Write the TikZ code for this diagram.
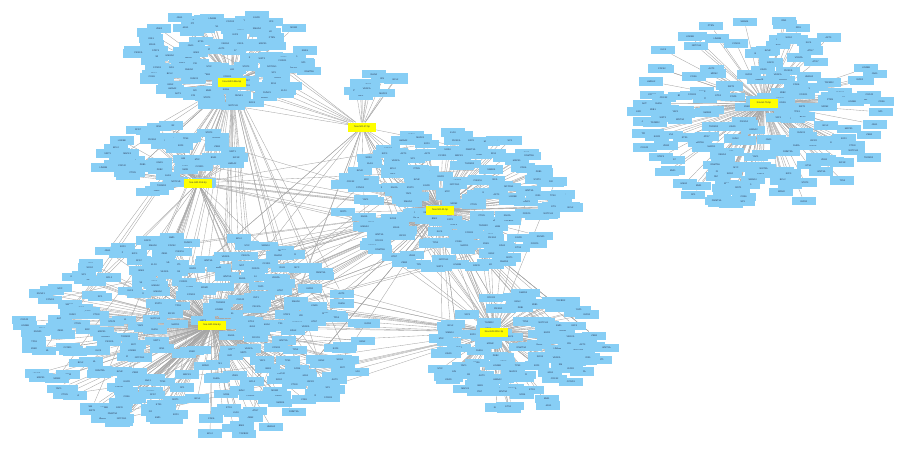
\documentclass[tikz,border=0pt]{standalone}
\usepackage{fontspec}
\setmainfont{Liberation Sans}
\pgfdeclarelayer{background}
\pgfdeclarelayer{foreground}
\pgfsetlayers{background,main,foreground}
\definecolor{nodeblue}{RGB}{135,206,245}
\definecolor{hubyellow}{RGB}{255,255,0}
\definecolor{edgegrey}{RGB}{165,165,165}
\definecolor{txt}{RGB}{40,50,80}
\tikzset{
  gn/.style={rectangle,fill=nodeblue,minimum width=24pt,minimum height=8.5pt,inner sep=0.4pt,
    font=\fontsize{2.3}{2.6}\selectfont,text=txt},
  hub/.style={rectangle,fill=hubyellow,minimum width=28pt,minimum height=9pt,inner sep=0.4pt,
    font=\fontsize{2.4}{2.8}\selectfont,text=txt},
  edge/.style={draw=edgegrey,line width=0.35pt},
  xedge/.style={draw=edgegrey,line width=0.35pt}
}
\def\genelist{{"TP53","EGFR","KRAS","PTEN","MYC","BCL2","CDK6","E2F3","SOX4","ZEB1","ZEB2","CCND1","VEGFA","STAT3","SMAD4","NOTCH1","IGF1R","MAPK1","PIK3CA","AKT3","FOXO1","HMGA2","KLF4","SIRT1","TGFBR2","RUNX1","ETS1","MDM2","BMI1","YAP1","CDC42","RHOA","DNMT3A","EZH2","SP1","JAG1","WNT3A","LIN28B","IRS1","ATG7"}}
\begin{document}
\begin{tikzpicture}[x=1pt,y=-1pt]
\useasboundingbox (0,0) rectangle (902,450);
\pgfmathsetseed{2024}
\begin{pgfonlayer}{foreground}
\node[hub] (h1) at (232,82) {hsa-miR-146a-5p};
\node[hub] (h2) at (362,127) {hsa-miR-17-5p};
\node[hub] (h3) at (198,183) {hsa-miR-155-5p};
\node[hub] (h4) at (440,210) {hsa-miR-21-5p};
\node[hub] (h5) at (212,325) {hsa-miR-34a-5p};
\node[hub] (h6) at (494,332) {hsa-miR-200c-3p};
\node[hub] (h7) at (764,103) {hsa-let-7b-5p};
\end{pgfonlayer}
\foreach \c/\cx/\cy/\rx/\ry/\n in {
  1/226/58/92/48/130,
  2/378/88/30/15/10,
  3/168/160/70/36/55,
  4/456/200/118/70/190,
  5/196/336/175/102/300,
  6/522/352/86/60/130,
  7/757/112/130/96/200}{
  \foreach \i in {1,...,\n}{
    \pgfmathsetmacro\rr{sqrt(rnd)}
    \pgfmathsetmacro\aa{360*rnd}
    \pgfmathsetmacro\px{\cx+\rx*\rr*cos(\aa)}
    \pgfmathsetmacro\py{\cy+\ry*\rr*sin(\aa)}
    \pgfmathtruncatemacro\k{mod(\i*7+\c*11,40)}
    \pgfmathsetmacro\lab{\genelist[\k]}
    \node[gn] (n\c-\i) at (\px,\py) {\lab};
  }
}
\begin{pgfonlayer}{background}
\foreach \c/\n in {1/130,2/10,3/55,4/190,5/300,6/130,7/200}{
  \foreach \i in {1,...,\n}{
    \draw[edge] (h\c) -- (n\c-\i);
  }
}
\foreach \h/\c/\n/\m in {1/5/300/28, 1/3/55/12, 2/1/130/8, 2/4/190/12, 2/5/300/6,
  3/5/300/22, 3/4/190/6, 4/5/300/30, 4/6/130/18, 4/3/55/5, 6/4/190/16, 6/5/300/18, 5/4/190/10}{
  \foreach \j in {1,...,\m}{
    \pgfmathtruncatemacro\t{1+rnd*(\n-1)}
    \draw[xedge] (h\h) -- (n\c-\t);
  }
}
\draw[xedge] (h1) -- (h2);
\draw[xedge] (h2) -- (h4);
\draw[xedge] (h4) -- (h6);
\draw[xedge] (h3) -- (h4);
\draw[xedge] (h1) -- (h3);
\draw[xedge] (h5) -- (h6);
\end{pgfonlayer}
\end{tikzpicture}
\end{document}
